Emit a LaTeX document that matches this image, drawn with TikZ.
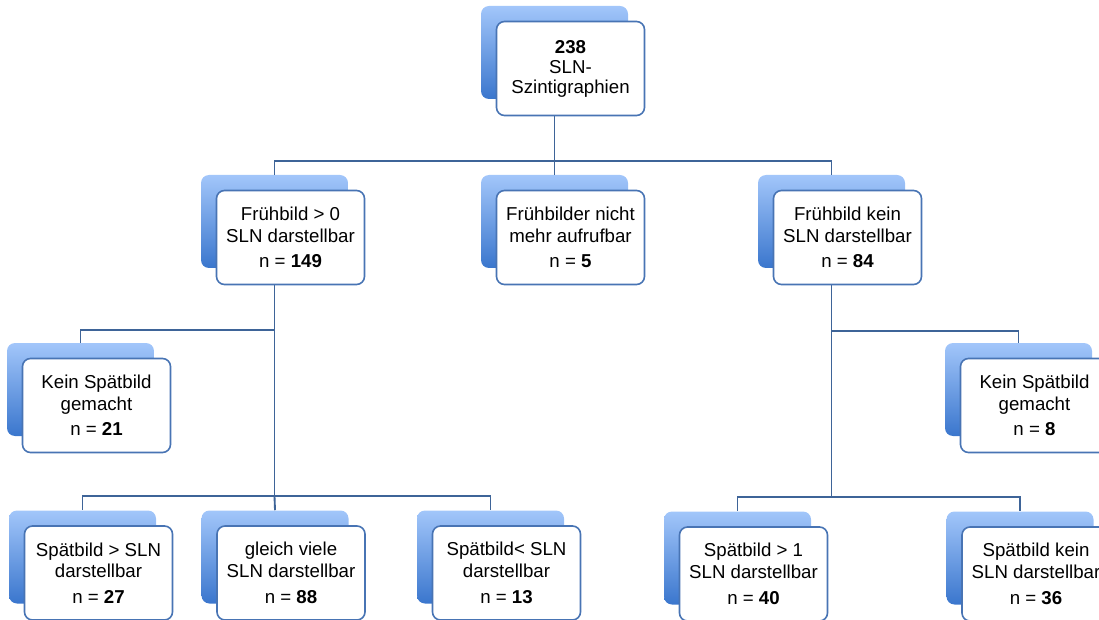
\documentclass[tikz,border=0pt]{standalone}
\usepackage{fontspec}
\setmainfont{Liberation Sans}

\definecolor{boxline}{RGB}{72,116,180}
\definecolor{linkline}{RGB}{62,100,152}
\definecolor{shadetop}{RGB}{162,198,250}
\definecolor{shadebot}{RGB}{58,118,205}

\begin{document}
\begin{tikzpicture}[x=0.75pt, y=-0.75pt,
    back/.style={rounded corners=6pt, top color=shadetop, bottom color=shadebot,
        minimum width=110.25pt, minimum height=69.75pt, inner sep=0pt},
    front/.style={draw=boxline, line width=1.2pt, fill=white, rounded corners=6pt,
        minimum width=111pt, minimum height=70.5pt, inner sep=2pt, align=center,
        font=\fontsize{14}{16.3}\selectfont},
    link/.style={draw=linkline, line width=1.4pt}]
            \useasboundingbox (0,0) rectangle (1099,620);

            % back boxes
            \node[back] (root) at (554.5,52.5) {};
            \node[back] (frueh) at (274.5,221.5) {};
            \node[back] (alt) at (554.5,221.5) {};
            \node[back] (kein) at (831.5,221.5) {};
            \node[back] (ohneL) at (80.5,389.5) {};
            \node[back] (ohneR) at (1018.5,389.5) {};
            \node[back] (mehr) at (82.5,557) {};
            \node[back] (gleich) at (275,557) {};
            \node[back] (weniger) at (490.5,557) {};
            \node[back] (spaet) at (737.5,558) {};
            \node[back] (spaetkein) at (1020,558) {};

            % connectors
            \coordinate (bus1) at (554.5,161);
            \coordinate (bus2) at (274.5,330);
            \coordinate (bus3) at (274.5,496);
            \coordinate (bus4) at (831.5,331);
            \coordinate (bus5) at (831.5,497);
            \draw[link] (root.south) -- (bus1) -| (frueh.north);
            \draw[link] (bus1) -| (kein.north);
            \draw[link] (bus1) -- (alt.north);
            \draw[link] (frueh.south) -- (bus3);
            \draw[link] (bus2) -| (ohneL.north);
            \draw[link] (bus3) -| (mehr.north);
            \draw[link] (bus3) -| (weniger.north);
            \draw[link] (bus3) -- (gleich.north);
            \draw[link] (kein.south) -- (bus5);
            \draw[link] (bus4) -| (ohneR.north);
            \draw[link] (bus5) -| (spaet.north);
            \draw[link] (bus5) -| (spaetkein.north);

            % text boxes
            \node[front, font=\fontsize{14}{15}\selectfont] (root-t) at (570.5,68.5) {\textbf{238}\\SLN-\\Szintigraphien};
            \node[front] (frueh-t) at (290.5,237.5) {Frühbild > 0\\SLN darstellbar\\[3pt]n = \textbf{149}};
            \node[front] (alt-t) at (570.5,237.5) {Frühbilder nicht\\mehr aufrufbar\\[3pt]n = \textbf{5}};
            \node[front] (kein-t) at (847.5,237.5) {Frühbild kein\\SLN darstellbar\\[3pt]n = \textbf{84}};
            \node[front] (ohneL-t) at (96.5,405.5) {Kein Spätbild\\gemacht\\[3pt]n = \textbf{21}};
            \node[front] (ohneR-t) at (1034.5,405.5) {Kein Spätbild\\gemacht\\[3pt]n = \textbf{8}};
            \node[front] (mehr-t) at (98.5,573) {Spätbild > SLN\\darstellbar\\[3pt]n = \textbf{27}};
            \node[front] (gleich-t) at (291,573) {gleich viele\\SLN darstellbar\\[3pt]n = \textbf{88}};
            \node[front] (weniger-t) at (506.5,573) {Spätbild< SLN\\darstellbar\\[3pt]n = \textbf{13}};
            \node[front] (spaet-t) at (753.5,574) {Spätbild > 1\\SLN darstellbar\\[3pt]n = \textbf{40}};
            \node[front] (spaetkein-t) at (1036,574) {Spätbild kein\\SLN darstellbar\\[3pt]n = \textbf{36}};
        \end{tikzpicture}
\end{document}
